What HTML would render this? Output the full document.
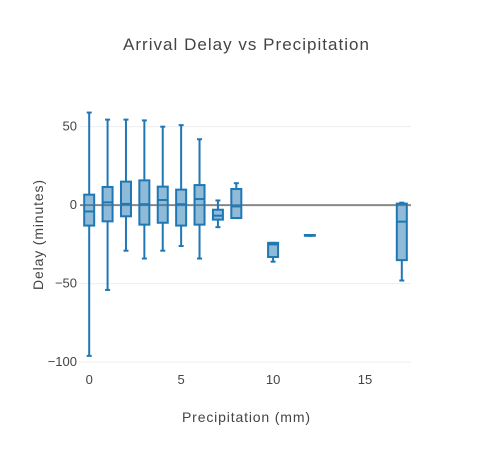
<!DOCTYPE html>
<html><head><meta charset="utf-8"><style>
body{margin:0;background:#fff}
svg{font-family:"Liberation Sans",sans-serif}
</style></head><body>
<svg id="chart" width="492" height="450">
<rect width="492" height="450" fill="#fff"/>
<text x="246" y="50" text-anchor="middle" font-size="17" fill="#444" textLength="246" lengthAdjust="spacing">Arrival Delay vs Precipitation</text>
<g id="grid"></g><g id="boxes"></g><g id="ticks"></g>
<text x="246" y="422" text-anchor="middle" font-size="14" fill="#444" textLength="128" lengthAdjust="spacing">Precipitation (mm)</text>
<text transform="translate(43,235) rotate(-90)" text-anchor="middle" font-size="14" fill="#444" textLength="110" lengthAdjust="spacing">Delay (minutes)</text>
</svg>
<script>
const categories=[0,1,2,3,4,5,6,7,8,10,12,17];
const maxVals=[59,54.5,54.5,54,50,51,42,3,14,-24,-19,1.6];
const q3Vals=[6.7,11.6,15,15.8,11.8,9.9,12.8,-2.9,10.3,-24,-19,1];
const medVals=[-4,1.8,0.8,0.6,3.3,0.6,3.9,-6.7,-0.8,-25,-19,-10.5];
const q1Vals=[-13,-10.3,-7.1,-12.4,-11.2,-13,-12.4,-9.2,-8.2,-33,-19.5,-35];
const minVals=[-96,-54,-29,-34,-29,-26,-34,-14,-8.2,-36,-19.5,-48];
const xTicks=[0,5,10,15];
const yTicks=[50,0,-50,-100];
const yTickLabels=["50","0","−50","−100"];
const NS="http://www.w3.org/2000/svg";
const X0=80,X1=411,Y0=100,Y1=370,xMin=-0.5,xMax=17.5,yMin=-105,yMax=67;
const xs=v=>X0+(v-xMin)/(xMax-xMin)*(X1-X0);
const ys=v=>Y1-(v-yMin)/(yMax-yMin)*(Y1-Y0);
function mk(tag,attrs,parent){const e=document.createElementNS(NS,tag);for(const k in attrs)e.setAttribute(k,attrs[k]);document.getElementById(parent).appendChild(e);return e;}
yTicks.forEach((t,i)=>{
  const g=mk('line',{x1:X0,x2:X1,y1:ys(t),y2:ys(t),stroke:t===0?'#888':'#eee','stroke-width':t===0?2:1},'grid');
  
  
  const l=mk('text',{x:X0-3,y:ys(t)+4,'text-anchor':'end','font-size':13,fill:'#444'},'ticks');
  l.textContent=yTickLabels[i];
  
  
});
xTicks.forEach(t=>{
  const l=mk('text',{x:xs(t),y:384,'text-anchor':'middle','font-size':13,fill:'#444'},'ticks');
  l.textContent=t;
  
  
});
const C='#1f77b4',hw=5,cw=2.5;
categories.forEach((c,i)=>{
  const g=document.createElementNS(NS,'g');document.getElementById('boxes').appendChild(g);
  
  
  const x=xs(c);
  const add=(tag,a)=>{const e=document.createElementNS(NS,tag);for(const k in a)e.setAttribute(k,a[k]);g.appendChild(e);};
  add('line',{x1:x,x2:x,y1:ys(maxVals[i]),y2:ys(q3Vals[i]),stroke:C,'stroke-width':2});
  add('line',{x1:x,x2:x,y1:ys(q1Vals[i]),y2:ys(minVals[i]),stroke:C,'stroke-width':2});
  add('line',{x1:x-cw,x2:x+cw,y1:ys(maxVals[i]),y2:ys(maxVals[i]),stroke:C,'stroke-width':2});
  add('line',{x1:x-cw,x2:x+cw,y1:ys(minVals[i]),y2:ys(minVals[i]),stroke:C,'stroke-width':2});
  const top=ys(q3Vals[i]),bot=ys(q1Vals[i]);
  add('rect',{x:x-hw,y:top,width:2*hw,height:Math.max(bot-top,0.5),fill:'rgba(31,119,180,0.5)',stroke:C,'stroke-width':2});
  add('line',{x1:x-hw,x2:x+hw,y1:ys(medVals[i]),y2:ys(medVals[i]),stroke:C,'stroke-width':2});
});
</script>
</body></html>
